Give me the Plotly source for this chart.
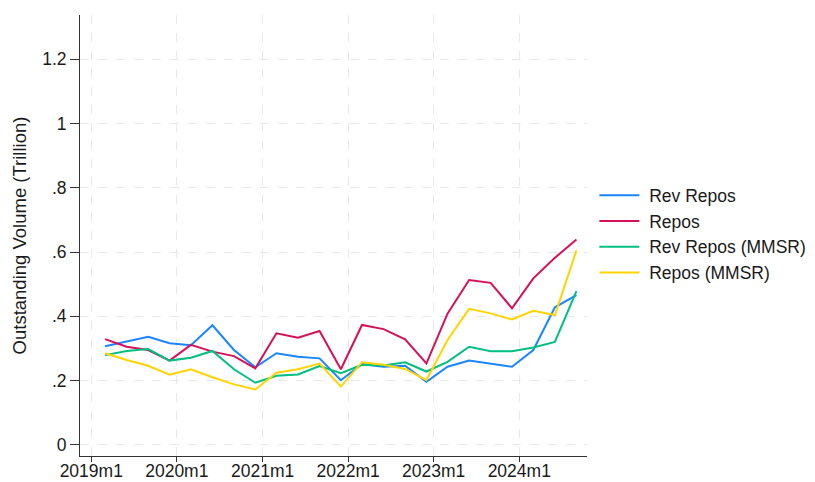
import plotly.graph_objects as go

# quarterly observations, 2019m3 .. 2024m9
dates = ["2019-03-01", "2019-06-01", "2019-09-01", "2019-12-01",
         "2020-03-01", "2020-06-01", "2020-09-01", "2020-12-01",
         "2021-03-01", "2021-06-01", "2021-09-01", "2021-12-01",
         "2022-03-01", "2022-06-01", "2022-09-01", "2022-12-01",
         "2023-03-01", "2023-06-01", "2023-09-01", "2023-12-01",
         "2024-03-01", "2024-06-01", "2024-09-01"]

rev_repos = [0.307, 0.322, 0.336, 0.316, 0.310, 0.372, 0.295, 0.241, 0.285, 0.274, 0.269, 0.201,
             0.251, 0.243, 0.246, 0.196, 0.243, 0.262, 0.253, 0.243, 0.295, 0.428, 0.466]
repos = [0.329, 0.305, 0.295, 0.262, 0.311, 0.290, 0.276, 0.238, 0.347, 0.333, 0.354, 0.235,
         0.373, 0.360, 0.328, 0.253, 0.408, 0.513, 0.504, 0.425, 0.518, 0.582, 0.639]
rev_repos_mmsr = [0.279, 0.292, 0.298, 0.262, 0.271, 0.292, 0.235, 0.193, 0.215, 0.219, 0.245, 0.223,
                  0.249, 0.247, 0.257, 0.228, 0.258, 0.305, 0.291, 0.291, 0.303, 0.320, 0.478]
repos_mmsr = [0.285, 0.264, 0.246, 0.218, 0.235, 0.210, 0.188, 0.172, 0.224, 0.235, 0.253, 0.181,
              0.257, 0.249, 0.236, 0.201, 0.326, 0.423, 0.409, 0.390, 0.417, 0.404, 0.605]

x_tickvals = ["2019-01-01", "2020-01-01", "2021-01-01", "2022-01-01", "2023-01-01", "2024-01-01"]
x_ticktext = ["2019m1", "2020m1", "2021m1", "2022m1", "2023m1", "2024m1"]
y_tickvals = [0, 0.2, 0.4, 0.6, 0.8, 1.0, 1.2]
y_ticktext = ["0", ".2", ".4", ".6", ".8", "1", "1.2"]

series = [("Rev Repos", rev_repos, "#1a85ff"),
          ("Repos", repos, "#d41159"),
          ("Rev Repos (MMSR)", rev_repos_mmsr, "#00bf7f"),
          ("Repos (MMSR)", repos_mmsr, "#ffd400")]

fig = go.Figure()
for name, vals, col in series:
    fig.add_trace(go.Scatter(x=dates, y=vals, name=" " + name, mode="lines",
                             line=dict(color=col, width=2)))

# page body adds an 8px offset, margins account for it
fig.update_layout(
    width=815, height=482,
    paper_bgcolor="white", plot_bgcolor="white",
    font=dict(family="Liberation Sans, Arial", size=17.5, color="#1a1a1a"),
    margin=dict(l=72, r=236, t=7, b=34),
    legend=dict(x=1.0145, xanchor="left", y=0.632, yanchor="top",
                font=dict(size=17.5), itemwidth=40, tracegroupgap=0,
                bgcolor="rgba(0,0,0,0)"),
)
fig.update_xaxes(
    range=["2018-11-14", "2024-10-16"],
    tickvals=x_tickvals, ticktext=x_ticktext, automargin=False,
    showline=True, linecolor="#333333", linewidth=1,
    ticks="outside", ticklen=5, tickcolor="#333333", ticklabelstandoff=-6,
    showgrid=True, gridcolor="#e8e8e8", griddash="dash", gridwidth=1,
    zeroline=False,
)
fig.update_yaxes(
    range=[-0.035, 1.338],
    tickvals=y_tickvals, ticktext=y_ticktext, automargin=False,
    title=dict(text="Outstanding Volume (Trillion)", font=dict(size=18.5), standoff=10),
    showline=True, linecolor="#333333", linewidth=1,
    ticks="outside", ticklen=9, tickcolor="#333333",
    showgrid=True, gridcolor="#e8e8e8", griddash="dash", gridwidth=1,
    zeroline=False,
)

fig.write_html("out.html")
